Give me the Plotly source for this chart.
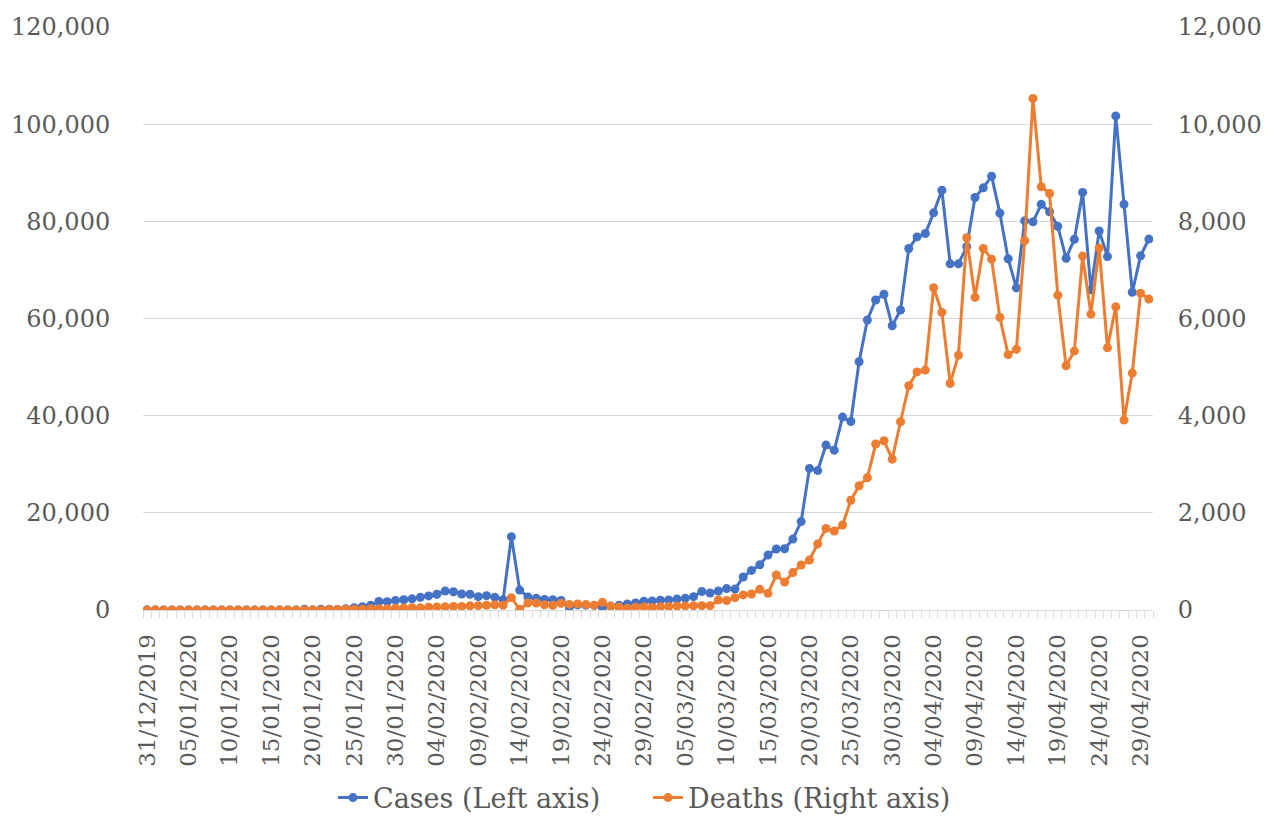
import pandas as pd
import plotly.graph_objects as go

dates = pd.date_range("2019-12-31", "2020-04-30", freq="D")

cases = [
    27, 0, 0, 17, 0, 15, 0, 0, 0, 0,
    0, 0, 0, 1, 1, 0, 1, 4, 17, 136,
    19, 151, 140, 97, 266, 453, 673, 1000, 1750, 1720,
    1980, 2100, 2300, 2600, 2900, 3250, 3900, 3750, 3300, 3250,
    2750, 2950, 2650, 2100, 15100, 4100, 2700, 2400, 2150, 2100,
    1950, 550, 1050, 1000, 950, 550, 800, 1000, 1250, 1450,
    1800, 1850, 2000, 2050, 2250, 2400, 2750, 3800, 3500, 3900,
    4400, 4300, 6800, 8150, 9300, 11300, 12550, 12600, 14600, 18200,
    29150, 28700, 33950, 32900, 39700, 38800, 51100, 59700, 63800, 65000,
    58500, 61750, 74400, 76800, 77500, 81750, 86400, 71250, 71250, 74800,
    84900, 86900, 89300, 81700, 72300, 66300, 80100, 79900, 83500, 81950,
    78950, 72400, 76300, 85950, 65900, 78000, 72750, 101700, 83500, 65400,
    72900, 76350,
]

deaths = [
    0, 0, 0, 0, 0, 0, 0, 0, 0, 0,
    0, 1, 0, 0, 0, 0, 0, 1, 0, 1,
    3, 0, 11, 8, 16, 15, 15, 25, 25, 26,
    38, 43, 46, 45, 57, 64, 66, 73, 73, 86,
    89, 97, 108, 97, 254, 13, 143, 142, 106, 98,
    139, 115, 125, 111, 99, 159, 77, 64, 37, 59,
    65, 52, 66, 71, 80, 84, 89, 89, 89, 206,
    195, 254, 310, 330, 425, 343, 720, 575, 770, 926,
    1030, 1360, 1680, 1625, 1750, 2260, 2558, 2723, 3416, 3484,
    3105, 3875, 4616, 4900, 4938, 6632, 6125, 4664, 5247, 7661,
    6434, 7442, 7222, 6022, 5255, 5365, 7600, 10528, 8711, 8574,
    6481, 5027, 5329, 7284, 6090, 7449, 5397, 6240, 3909, 4876,
    6522, 6400,
]

tick_dates = dates[::5]
left_ticks = [0, 20000, 40000, 60000, 80000, 100000, 120000]
right_ticks = [0, 2000, 4000, 6000, 8000, 10000, 12000]

FONT = "DejaVu Serif"
TXT = "#595959"
BLUE = "#4472C4"
ORANGE = "#ED7D31"
GRID = "#d9d9d9"

fig = go.Figure()
fig.add_trace(go.Scatter(
    x=dates, y=cases, name="Cases (Left axis)", mode="lines+markers",
    line=dict(color=BLUE, width=3), marker=dict(color=BLUE, size=9),
    yaxis="y",
))
fig.add_trace(go.Scatter(
    x=dates, y=deaths, name="Deaths (Right axis)", mode="lines+markers",
    line=dict(color=ORANGE, width=3), marker=dict(color=ORANGE, size=9),
    yaxis="y2",
))

day = 86400000
fig.update_layout(
    width=1285, height=820,
    paper_bgcolor="white", plot_bgcolor="white",
    margin=dict(l=135, r=140, t=19, b=218, autoexpand=False),
    font=dict(family=FONT, size=23, color=TXT),
    showlegend=True,
    legend=dict(orientation="h", x=0.5, xanchor="center", y=-0.3225, yanchor="middle",
                font=dict(family=FONT, size=27, color=TXT), itemwidth=30,
                entrywidth=270, entrywidthmode="pixels",
                traceorder="normal"),
    xaxis=dict(
        type="date", automargin=False,
        range=[dates[0] - pd.Timedelta(hours=12), dates[-1] + pd.Timedelta(hours=12)],
        tickvals=list(tick_dates), tickformat="%d/%m/%Y", tickangle=-90,
        ticks="outside", ticklen=14, tickcolor="rgba(0,0,0,0)",
        tickfont=dict(family=FONT, size=23, color=TXT),
        showgrid=False, showline=True, linecolor=GRID, linewidth=1,
        minor=dict(ticks="outside", ticklen=7, tickcolor=GRID, dtick=day,
                   tick0=dates[0] - pd.Timedelta(hours=12), showgrid=False),
        zeroline=False,
    ),
    yaxis=dict(
        range=[0, 120000], tickvals=left_ticks, tickformat=",", automargin=False,
        showgrid=True, gridcolor=GRID, gridwidth=1, zeroline=False,
        ticks="outside", ticklen=27, tickcolor="rgba(0,0,0,0)",
        tickfont=dict(family=FONT, size=24, color=TXT),
        showline=False,
    ),
    yaxis2=dict(
        range=[0, 12000], tickvals=right_ticks, tickformat=",", automargin=False,
        overlaying="y", side="right", showgrid=False, zeroline=False,
        ticks="outside", ticklen=19, tickcolor="rgba(0,0,0,0)",
        tickfont=dict(family=FONT, size=24, color=TXT),
        showline=False,
    ),
)

fig.write_html("out.html")
